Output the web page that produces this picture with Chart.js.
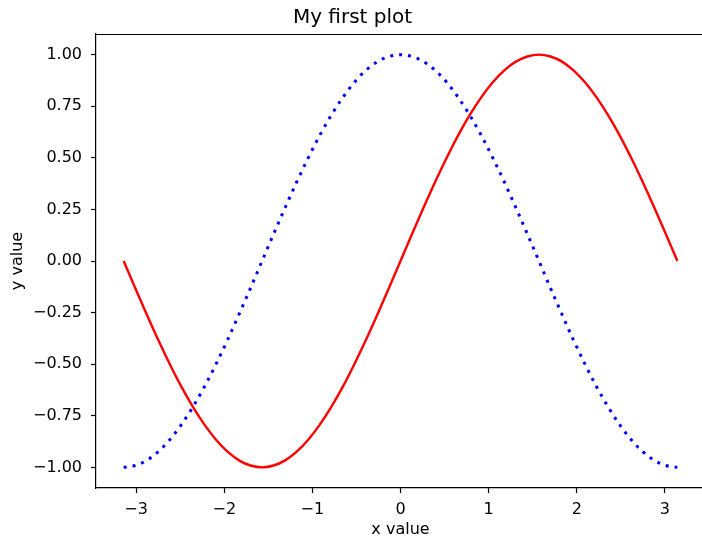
<!DOCTYPE html>
<html>
<head>
<meta charset="utf-8">
<script src="https://cdn.jsdelivr.net/npm/chart.js@4/dist/chart.umd.min.js"></script>
<style>
html, body { margin: 0; padding: 0; overflow: hidden; background: #fff; }
#wrap { width: 710px; height: 539px; position: relative; }
</style>
</head>
<body>
<div id="wrap"><canvas id="c" width="710" height="539"></canvas></div>
<script>
const xValues = [-3.142, -3.011, -2.880, -2.749, -2.618, -2.487, -2.356, -2.225, -2.094, -1.963, -1.833, -1.702,
  -1.571, -1.440, -1.309, -1.178, -1.047, -0.916, -0.785, -0.654, -0.524, -0.393, -0.262, -0.131,
  0, 0.131, 0.262, 0.393, 0.524, 0.654, 0.785, 0.916, 1.047, 1.178, 1.309, 1.440,
  1.571, 1.702, 1.833, 1.963, 2.094, 2.225, 2.356, 2.487, 2.618, 2.749, 2.880, 3.011, 3.142];
const sinValues = [0, -0.131, -0.259, -0.383, -0.5, -0.609, -0.707, -0.793, -0.866, -0.924, -0.966, -0.991,
  -1, -0.991, -0.966, -0.924, -0.866, -0.793, -0.707, -0.609, -0.5, -0.383, -0.259, -0.131,
  0, 0.131, 0.259, 0.383, 0.5, 0.609, 0.707, 0.793, 0.866, 0.924, 0.966, 0.991,
  1, 0.991, 0.966, 0.924, 0.866, 0.793, 0.707, 0.609, 0.5, 0.383, 0.259, 0.131, 0];
const cosValues = [-1, -0.991, -0.966, -0.924, -0.866, -0.793, -0.707, -0.609, -0.5, -0.383, -0.259, -0.131,
  0, 0.131, 0.259, 0.383, 0.5, 0.609, 0.707, 0.793, 0.866, 0.924, 0.966, 0.991,
  1, 0.991, 0.966, 0.924, 0.866, 0.793, 0.707, 0.609, 0.5, 0.383, 0.259, 0.131,
  0, -0.131, -0.259, -0.383, -0.5, -0.609, -0.707, -0.793, -0.866, -0.924, -0.966, -0.991, -1];
const xTicks = [-3, -2, -1, 0, 1, 2, 3];
const yTicks = [-1.0, -0.75, -0.5, -0.25, 0, 0.25, 0.5, 0.75, 1.0];

const toPts = ys => xValues.map((x, i) => ({x: x, y: ys[i]}));
const fmt = (v, d) => { const s = Math.abs(v).toFixed(d); return v < 0 ? '\u2212' + s : s; };

const topSpine = {
  id: 'topSpine',
  afterDraw(chart) {
    const {ctx, chartArea} = chart;
    ctx.save();
    ctx.strokeStyle = '#000';
    ctx.lineWidth = 1.2;
    ctx.beginPath();
    ctx.moveTo(chartArea.left, chartArea.top + 0.5);
    ctx.lineTo(chartArea.right, chartArea.top + 0.5);
    ctx.stroke();
    ctx.restore();
  }
};

const font = {family: 'DejaVu Sans', size: 16};

new Chart(document.getElementById('c'), {
  type: 'line',
  data: {
    datasets: [
      {label: 'sin', data: toPts(sinValues), borderColor: '#ff0000', borderWidth: 2.4,
       pointRadius: 0, cubicInterpolationMode: 'monotone', fill: false},
      {label: 'cos', data: toPts(cosValues), borderColor: '#0000ff', borderWidth: 3,
       borderDash: [3, 6], borderCapStyle: 'butt', pointRadius: 0, cubicInterpolationMode: 'monotone', fill: false}
    ]
  },
  options: {
    responsive: false,
    animation: false,
    devicePixelRatio: 1,
    layout: {padding: {left: 0, right: 5, top: 0, bottom: 0}},
    plugins: {
      legend: {display: false},
      tooltip: {enabled: false},
      title: {display: true, text: 'My first plot', color: '#000',
        font: {family: 'DejaVu Sans', size: 20, weight: 'normal', lineHeight: 1.2}, padding: {top: 6, bottom: 4}}
    },
    scales: {
      x: {
        type: 'linear', min: -3.4558, max: 3.4558,
        afterBuildTicks: (axis) => { axis.ticks = xTicks.map(v => ({value: v})); },
        afterFit: (scale) => { scale.height = 51; },
        ticks: {color: '#000', font: font, padding: 7, maxRotation: 0, autoSkip: false,
          callback: (v) => fmt(v, 0)},
        grid: {display: true, drawOnChartArea: false, drawTicks: true, tickLength: 5, color: '#000', tickWidth: 1.2},
        border: {display: true, color: '#000', width: 1.2},
        title: {display: true, text: 'x value', color: '#000', font: font, padding: {top: 0, bottom: 0}}
      },
      y: {
        type: 'linear', min: -1.1, max: 1.1,
        afterBuildTicks: (axis) => { axis.ticks = yTicks.map(v => ({value: v})); },
        afterFit: (scale) => { scale.width = 96; },
        ticks: {color: '#000', font: font, padding: 9, autoSkip: false,
          callback: (v) => fmt(v, 2)},
        grid: {display: true, drawOnChartArea: false, drawTicks: true, tickLength: 5, color: '#000', tickWidth: 1.2},
        border: {display: true, color: '#000', width: 1.2},
        title: {display: true, text: 'y value', color: '#000', font: font, padding: {top: 8.7, bottom: 0}}
      }
    }
  },
  plugins: [topSpine]
});
</script>
</body>
</html>
